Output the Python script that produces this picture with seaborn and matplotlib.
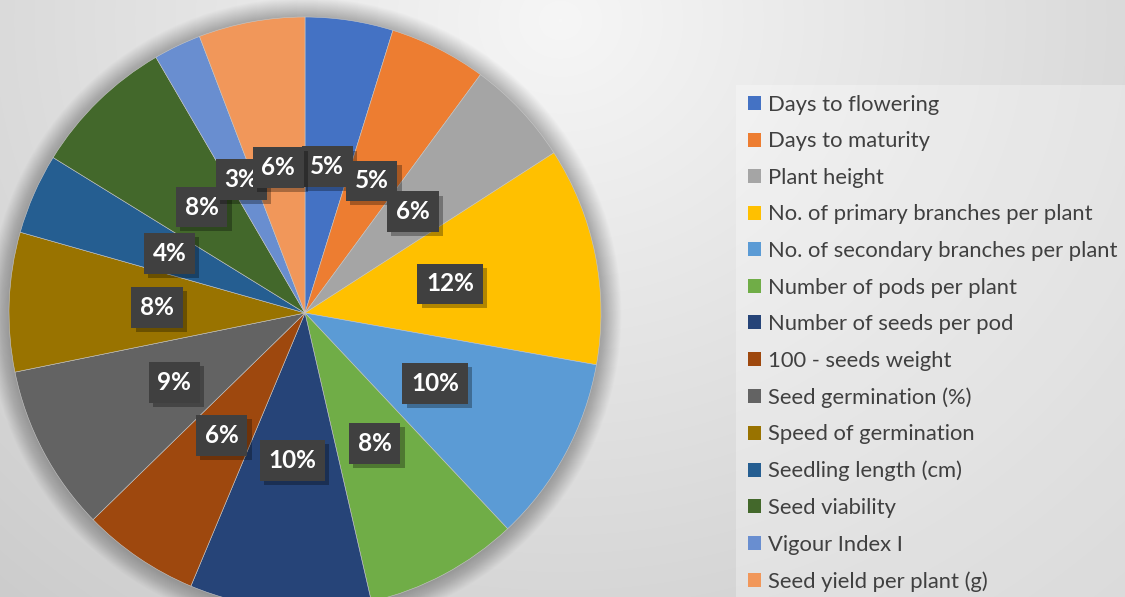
import matplotlib
matplotlib.use("Agg")
import matplotlib.pyplot as plt
import matplotlib.patheffects as pe
import seaborn as sns
import numpy as np

# traits and their share (clockwise from 12 o'clock)
traits = ["Days to flowering", "Days to maturity", "Plant height",
          "No. of primary branches per plant", "No. of secondary branches per plant",
          "Number of pods per plant", "Number of seeds per pod", "100 - seeds weight",
          "Seed germination (%)", "Speed of germination", "Seedling length (cm)",
          "Seed viability", "Vigour Index I", "Seed yield per plant (g)"]
shares = [4.8, 5.3, 5.8, 11.9, 10.2, 8.4, 9.9, 6.4, 9.1, 7.6, 4.4, 7.8, 2.6, 5.8]
colors = ["#4472C4", "#ED7D31", "#A5A5A5", "#FFC000", "#5B9BD5", "#70AD47",
          "#264478", "#9E480E", "#636363", "#997300", "#255E91", "#43682B",
          "#698ED0", "#F1975A"]

sns.set_style("white")
plt.rcParams["font.family"] = ["Lato", "DejaVu Sans"]

W, H = 1125, 597
fig = plt.figure(figsize=(W / 100, H / 100), dpi=100)

# radial grey background
bg = fig.add_axes([0, 0, 1, 1])
yy, xx = np.mgrid[0:H, 0:W]
d = np.hypot(xx - 560, (yy - 20) * 1.1) / 720
g = np.clip(0.965 - 0.14 * d, 0.80, 0.97)
bg.imshow(np.dstack([g, g, g]), extent=[0, W, H, 0], aspect="auto")
bg.set_xlim(0, W)
bg.set_ylim(H, 0)
bg.axis("off")

# lighter legend panel
bg.add_patch(plt.Rectangle((736, 85), W - 736, H - 85, fc="white", ec="none", alpha=0.3))

# pie axes: centre (305, 313) px, radius 296 px
cx, cy, R = 305, 313, 296
ax = fig.add_axes([(cx - R) / W, (H - cy - R) / H, 2 * R / W, 2 * R / H])

# soft shadow around the pie
for i in range(24):
    ax.add_patch(plt.Circle((0.0, -0.005), 1.0 + i * 0.003, fc="black", ec="none",
                            alpha=0.011, clip_on=False, zorder=0))

wedges, _, autotexts = ax.pie(
    shares, colors=colors, startangle=90, counterclock=False, radius=1,
    autopct="%.0f%%", pctdistance=0.5,
    wedgeprops=dict(linewidth=0.4, edgecolor="#c8c8c8"),
    textprops=dict(color="white", fontsize=17.5, fontweight="bold"),
)
ax.set_xlim(-1, 1)
ax.set_ylim(-1, 1)
ax.axis("off")
for w in wedges:
    w.set_clip_on(False)
for t in autotexts:
    t.set_bbox(dict(boxstyle="square,pad=0.36", fc="#404040", ec="none", lw=0))
    t.get_bbox_patch().set_path_effects([
        pe.SimplePatchShadow(offset=(3, -3), shadow_rgbFace="black", alpha=0.3),
        pe.Normal()])
    t.set_zorder(5)

# legend
leg = fig.legend(wedges, traits, loc="upper left", bbox_to_anchor=(739 / W, 1 - 86 / H),
                 frameon=False, fontsize=15.8, handlelength=0.6, handleheight=0.6,
                 handletextpad=0.3, labelspacing=0.754, borderaxespad=0)
for txt in leg.get_texts():
    txt.set_color("#404040")
for h in leg.legend_handles:
    h.set_edgecolor("none")

fig.savefig("out.png", dpi=100)
